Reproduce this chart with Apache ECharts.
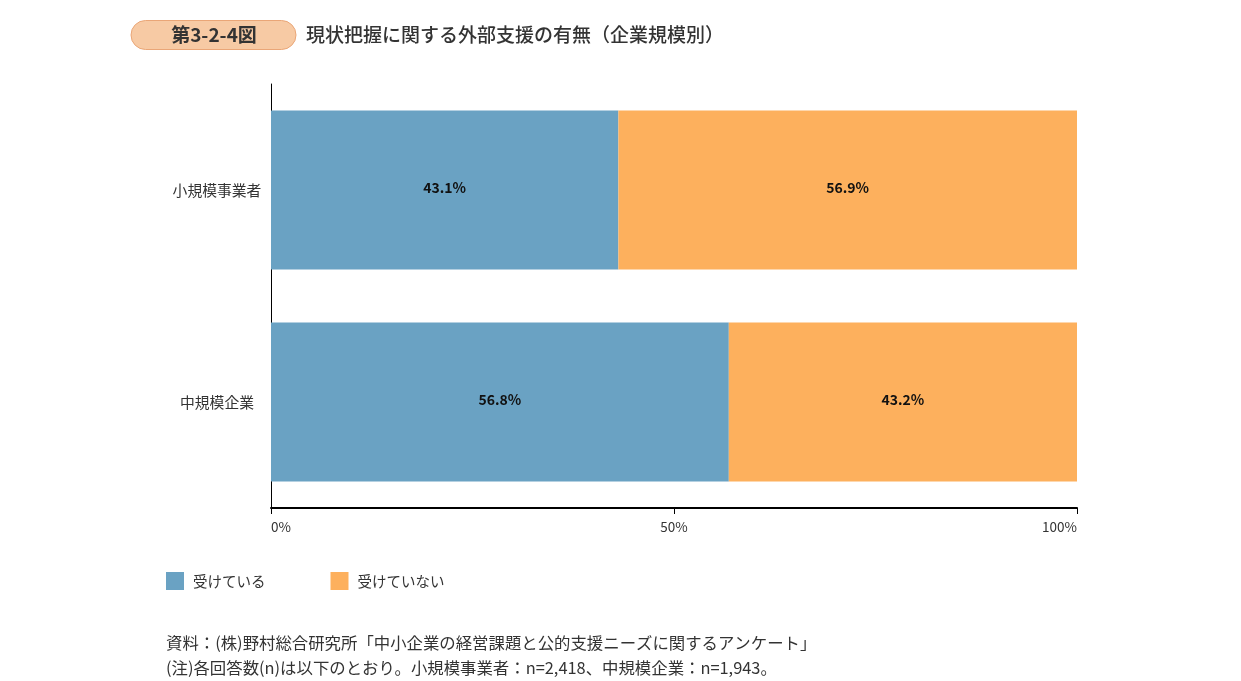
<!DOCTYPE html>
<html><head><meta charset="utf-8">
<script src="https://cdn.jsdelivr.net/npm/echarts@6/dist/echarts.min.js"></script>
<style>html,body{margin:0;padding:0;background:#fff;}#c{width:1241px;height:681px;}</style>
</head><body><div id="c"></div>
<script>
const categories = ['小規模事業者', '中規模企業'];
const seriesNames = ['受けている', '受けていない'];
const receiving = [43.1, 56.8];
const notReceiving = [56.9, 43.2];
const xTicks = [0, 50, 100];

const FONT = '"Noto Sans CJK JP", "Noto Sans", sans-serif';
const chart = echarts.init(document.getElementById('c'));
chart.setOption({
  backgroundColor: '#fff',
  textStyle: { fontFamily: FONT },
  animation: false,
  graphic: [
    { type: 'rect', shape: { x: 131, y: 20.5, width: 165, height: 29, r: 14.5 },
      style: { fill: '#f7caa4', stroke: '#eaa677', lineWidth: 1 } },
    { type: 'text', x: 214, y: 35, style: { text: '第3-2-4図', font: 'bold 19px ' + FONT, fill: '#333', align: 'center', verticalAlign: 'middle' } },
    { type: 'text', x: 306, y: 35, style: { text: '現状把握に関する外部支援の有無（企業規模別）', font: '500 19px ' + FONT, fill: '#333', align: 'left', verticalAlign: 'middle' } },
    { type: 'text', x: 166, y: 643, style: { text: '資料：(株)野村総合研究所「中小企業の経営課題と公的支援ニーズに関するアンケート」', font: '16.4px ' + FONT, fill: '#333', verticalAlign: 'middle' } },
    { type: 'text', x: 166, y: 668, style: { text: '(注)各回答数(n)は以下のとおり。小規模事業者：n=2,418、中規模企業：n=1,943。', font: '16.4px ' + FONT, fill: '#333', verticalAlign: 'middle' } }
  ],
  legend: {
    left: 161, top: 567, itemWidth: 18, itemHeight: 18, itemGap: 65,
    icon: 'rect',
    data: seriesNames,
    textStyle: { fontSize: 14.5, color: '#333', fontFamily: FONT, padding: [0, 0, 0, 4] }
  },
  grid: { left: 271, right: 164, top: 84, bottom: 173, containLabel: false },
  xAxis: {
    type: 'value', min: xTicks[0], max: xTicks[xTicks.length - 1], interval: 50,
    axisLine: { show: true, lineStyle: { color: '#000', width: 2 } },
    axisTick: { show: true, length: 6, lineStyle: { color: '#000', width: 1 } },
    splitLine: { show: false },
    axisLabel: { formatter: '{value}%', fontSize: 13.5, color: '#333', margin: 12,
      alignMinLabel: 'left', alignMaxLabel: 'right' }
  },
  yAxis: {
    type: 'category', data: categories, inverse: true,
    axisLine: { show: true, lineStyle: { color: '#000', width: 1 } },
    axisTick: { show: false },
    axisLabel: { fontSize: 14.8, color: '#333', margin: 54, align: 'center' }
  },
  series: [
    { name: seriesNames[0], type: 'bar', stack: 's', data: receiving, barCategoryGap: '25%',
      itemStyle: { color: '#6aa2c3' },
      label: { show: true, position: 'inside', offset: [0, -2], formatter: p => p.value.toFixed(1) + '%', color: '#111', fontWeight: 'bold', fontSize: 14 } },
    { name: seriesNames[1], type: 'bar', stack: 's', data: notReceiving, barCategoryGap: '25%',
      itemStyle: { color: '#fdb05d' },
      label: { show: true, position: 'inside', offset: [0, -2], formatter: p => p.value.toFixed(1) + '%', color: '#111', fontWeight: 'bold', fontSize: 14 } }
  ]
});
</script></body></html>
